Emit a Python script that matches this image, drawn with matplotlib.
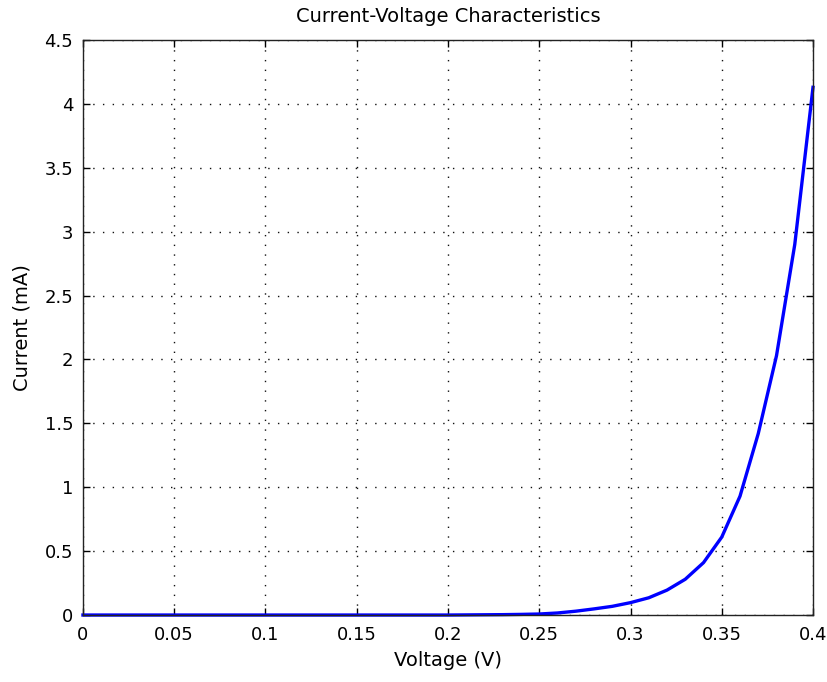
import numpy as np
import matplotlib
matplotlib.use("Agg")
import matplotlib.pyplot as plt

# Diode I-V data: forward voltage (V) vs. current (mA), 10 mV steps
voltage = np.round(np.arange(0, 41) * 0.01, 2)
current = [0.0, 0.0, 0.0, 0.0, 0.0, 0.0, 0.0, 0.0, 0.0, 0.0,
           0.0, 0.0, 0.0, 0.0, 0.0, 0.0, 0.0, 0.0, 0.0, 0.0,
           0.0, 0.001, 0.002, 0.003, 0.005, 0.008, 0.016, 0.03, 0.048, 0.068,
           0.097, 0.135, 0.195, 0.28, 0.41, 0.61, 0.93, 1.42, 2.03, 2.9,
           4.13]

x_ticks = [0, 0.05, 0.1, 0.15, 0.2, 0.25, 0.3, 0.35, 0.4]
x_labels = ["0", "0.05", "0.1", "0.15", "0.2", "0.25", "0.3", "0.35", "0.4"]
y_ticks = [0, 0.5, 1, 1.5, 2, 2.5, 3, 3.5, 4, 4.5]
y_labels = ["0", "0.5", "1", "1.5", "2", "2.5", "3", "3.5", "4", "4.5"]

plt.rcParams["font.family"] = ["DejaVu Sans"]

fig = plt.figure(figsize=(8.28, 6.82), dpi=100)
ax = fig.add_axes([0.1002, 0.0982, 0.8817, 0.8431])

ax.plot(voltage, current, color="#0000ff", linewidth=2.4, clip_on=False, zorder=2)

ax.set_xlim(0, 0.4)
ax.set_ylim(0, 4.5)
ax.set_xticks(x_ticks)
ax.set_xticklabels(x_labels)
ax.set_yticks(y_ticks)
ax.set_yticklabels(y_labels)

ax.grid(True, color="#111111", linestyle=(0, (1, 6)), linewidth=1.0)
ax.tick_params(direction="in", length=5, width=1, top=True, right=True,
               labelsize=13, colors="#000000")
ax.tick_params(axis="x", pad=8)
ax.tick_params(axis="y", pad=7)
for sp in ax.spines.values():
    sp.set_linewidth(1)
    sp.set_color("#222222")

ax.set_title("Current-Voltage Characteristics", fontsize=14, pad=13)
ax.set_xlabel("Voltage (V)", fontsize=14, labelpad=5)
ax.set_ylabel("Current (mA)", fontsize=14, labelpad=9)

fig.savefig("out.png", dpi=100, facecolor="white")
